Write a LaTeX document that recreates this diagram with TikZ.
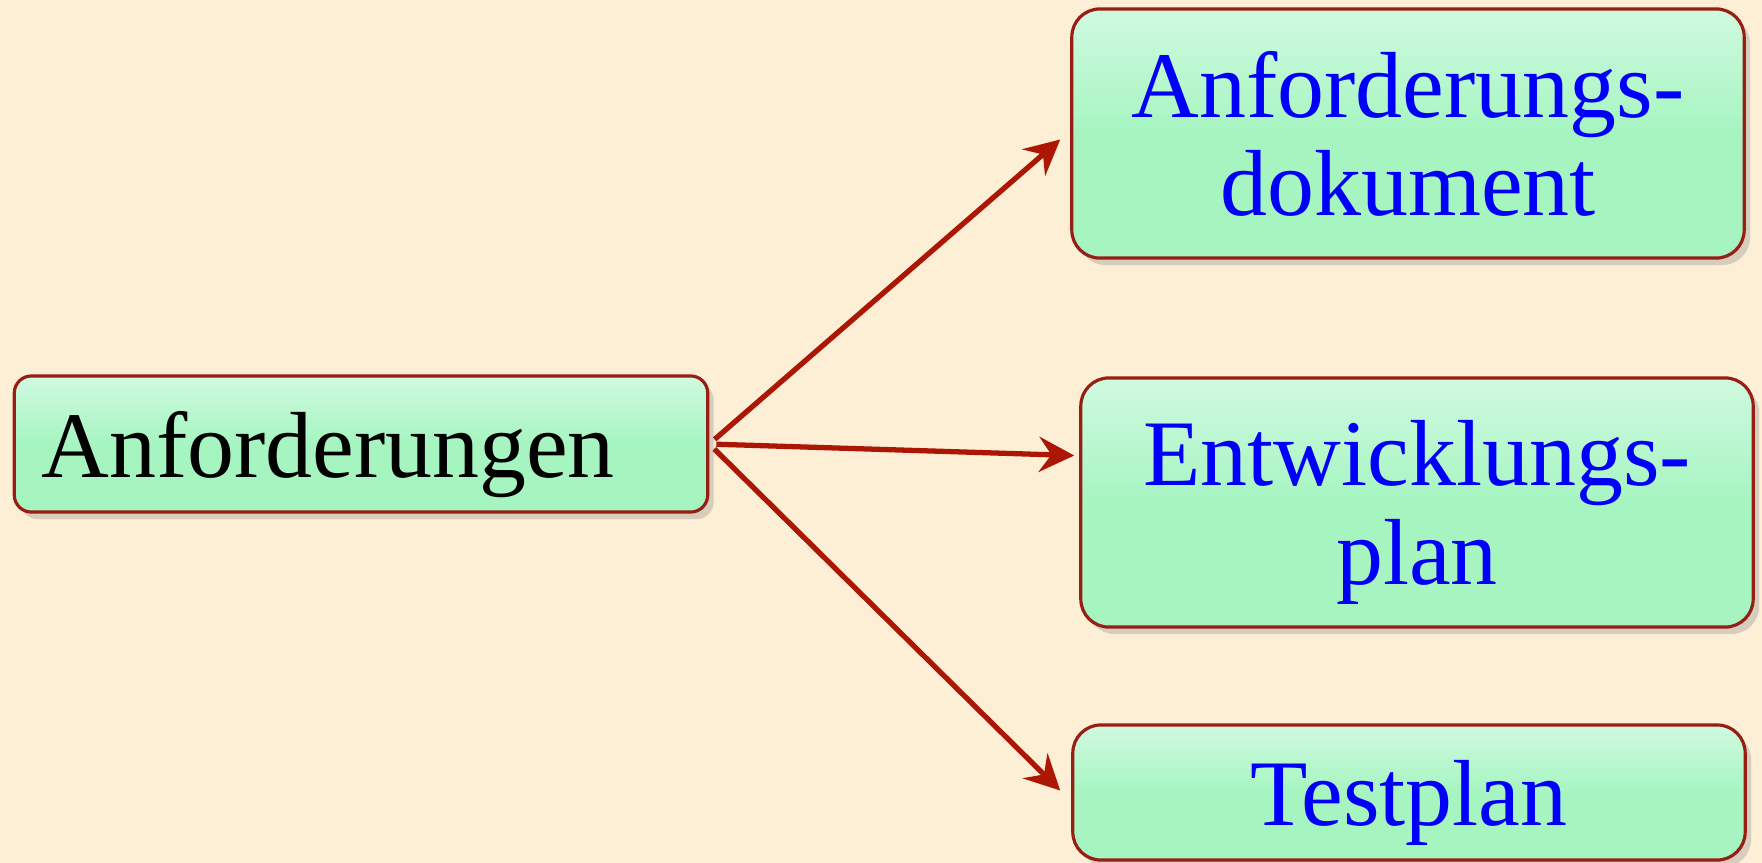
\documentclass[tikz,border=0pt]{standalone}
\usepackage{fontspec}
\setmainfont{Liberation Serif}
\usepackage{xcolor}
\usepackage{tikz}
\usetikzlibrary{calc,arrows.meta,shadows}
\definecolor{Parchment}{RGB}{252,239,214}
\definecolor{BoxGreen}{RGB}{166,245,193}
\definecolor{BoxTop}{RGB}{208,249,224}
\definecolor{BoxRim}{RGB}{150,30,20}
\definecolor{ArrowRed}{RGB}{172,22,4}
\definecolor{LabelBlue}{RGB}{0,0,250}

\tikzset{
  docbox/.style={draw=BoxRim, line width=0.9pt, top color=BoxTop, bottom color=BoxGreen, middle color=BoxGreen,
    rounded corners=0.28cm, minimum width=6.72cm, text=LabelBlue, align=center, text depth=0pt,
    font=\fontsize{26.7}{28}\selectfont,
    drop shadow={shadow xshift=0.06cm, shadow yshift=-0.07cm, opacity=0.3}},
  flow/.style={ArrowRed, line width=1.5pt, shorten <=2pt, -{Stealth[length=10pt,width=10pt,inset=3.5pt]}}
}

\begin{document}
\begin{tikzpicture}[x=0.01cm, y=-0.01cm]
        % Background
        \fill[Parchment] (0,0) rectangle (1762,863);
        
        % Source
        \node[docbox, rounded corners=0.17cm, minimum width=6.93cm, minimum height=1.36cm,
              text width=6.39cm, inner xsep=0.27cm, align=left, text=black] (req) at (361,444) {Anforderungen};
        
        % Derived documents
        \node[docbox, minimum height=2.49cm] (reqdoc) at (1408,133.5) {Anforderungs-\\dokument};
        \node[docbox, minimum height=2.49cm] (devplan) at (1417,502.5) {Entwicklungs-\\plan};
        \node[docbox, minimum height=1.35cm] (testplan) at (1409,792.5) {Testplan};
        
        % Arrows
        \draw[flow] (req.east) -- ($(reqdoc.west) + (-10,6)$);
        \draw[flow] (req.east) -- ($(devplan.west) + (-5,-47)$);
        \draw[flow] (req.east) -- ($(testplan.west) + (-11,-2)$);
    \end{tikzpicture}
\end{document}
